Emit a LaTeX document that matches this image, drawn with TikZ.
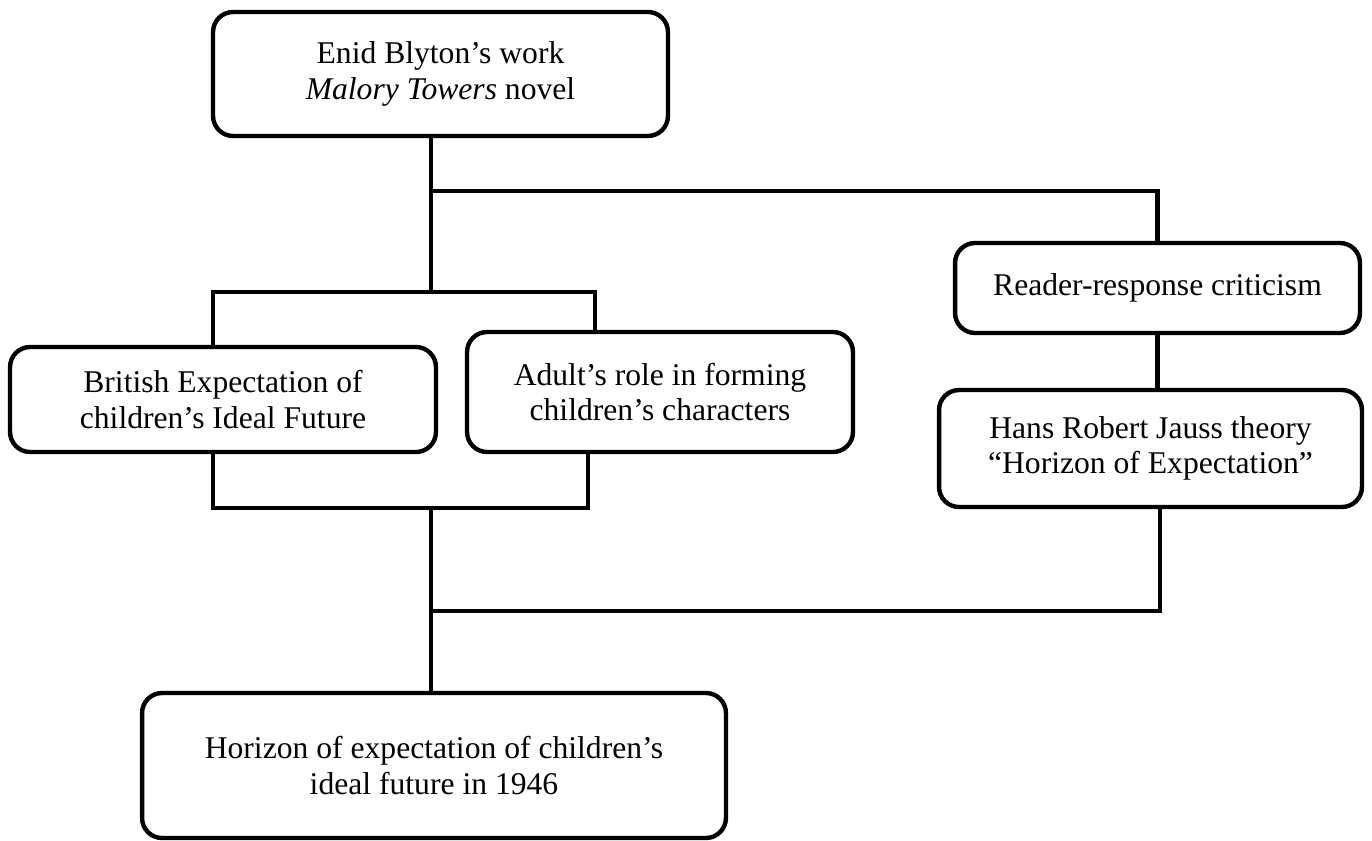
\documentclass[tikz,border=0pt]{standalone}
\usepackage{fontspec}
\setmainfont{Liberation Serif}

\begin{document}
\begin{tikzpicture}[x=0.02cm,y=-0.02cm,line width=2.5pt,font=\fontsize{18}{20.3}\selectfont]
	\tikzset{box/.style={draw,rounded corners=0.4cm,align=center,inner sep=0pt},
		link/.style={draw,line cap=rect}}
	\useasboundingbox (0,0) rectangle (1372,841);
	\node[box,minimum width=9.1cm,minimum height=2.48cm] (blyton) at (440.5,74) {Enid Blyton’s work\\\textit{Malory Towers} novel};
	\node[box,minimum width=8.52cm,minimum height=2.1cm] (british) at (223,399.5) {British Expectation of\\children’s Ideal Future};
	\node[box,minimum width=7.72cm,minimum height=2.4cm] (adult) at (660,392) {Adult’s role in forming\\children’s characters};
	\node[box,minimum width=8.1cm,minimum height=1.8cm] (reader) at (1157.5,288) {Reader-response criticism};
	\node[box,minimum width=8.46cm,minimum height=2.34cm] (jauss) at (1150.5,448.5) {Hans Robert Jauss theory\\“Horizon of Expectation”};
	\node[box,minimum width=11.68cm,minimum height=2.9cm] (horizon) at (434,765.5) {Horizon of expectation of children’s\\ideal future in 1946};
	% junctions
	\coordinate (j1) at (431,191);
	\coordinate (j2) at (431,292);
	\coordinate (j3) at (431,508);
	\coordinate (j4) at (431,611);
	\coordinate (ul) at (213,292);
	\coordinate (ur) at (595,292);
	\coordinate (ll) at (213,508);
	\coordinate (lr) at (588,508);
	\coordinate (jr) at (1160,611);
	\path[link]
		(blyton.south -| j1) -- (j2)
		(j1) -| (reader.north)
		(british.north -| ul) |- (ur) -- (adult.north -| ur)
		(british.south -| ll) |- (lr) -- (adult.south -| lr)
		(j3) -- (horizon.north -| j3)
		(j4) -- (jr) -- (jauss.south -| jr)
		(reader.south) -- (reader.south |- jauss.north);
\end{tikzpicture}
\end{document}
